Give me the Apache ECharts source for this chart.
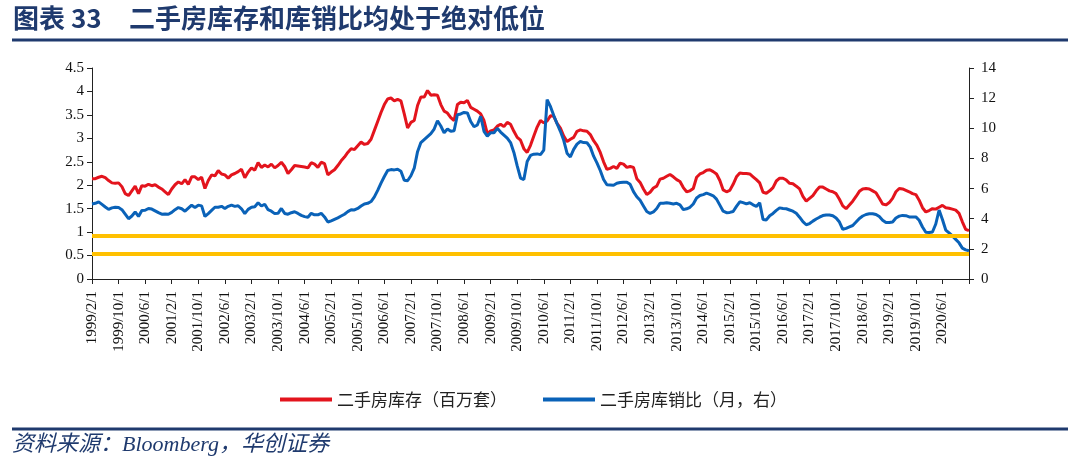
<!DOCTYPE html>
<html><head><meta charset="utf-8">
<script src="https://cdn.jsdelivr.net/npm/echarts@6/dist/echarts.min.js"></script>
<style>html,body{margin:0;padding:0;background:#fff}#c{width:1080px;height:469px}</style>
</head><body><div id="c"></div>
<script>
// Monthly, 1999/2 .. 2021/2
const startYear = 1999, startMonth = 2, nMonths = 265;
const categories = [];
for (let i = 0; i < nMonths; i++) {
  const m = startMonth - 1 + i;
  categories.push((startYear + Math.floor(m / 12)) + '/' + (m % 12 + 1) + '/1');
}
// 二手房库存（百万套） left axis
const inventory = [
2.14,2.14,2.17,2.19,2.16,2.10,2.05,2.04,2.05,1.97,
1.82,1.78,1.88,1.98,1.82,1.99,1.98,2.02,1.99,2.01,
1.96,1.92,1.86,1.80,1.92,2.01,2.07,2.03,2.12,2.02,
2.18,2.18,2.12,2.17,1.93,2.10,2.22,2.20,2.31,2.24,
2.22,2.15,2.22,2.25,2.29,2.34,2.16,2.28,2.37,2.32,
2.48,2.38,2.43,2.39,
2.45,2.37,2.42,2.49,2.40,2.25,2.33,2.42,2.41,2.40,
2.39,2.37,2.48,2.45,2.38,2.49,2.46,2.22,2.28,2.33,
2.42,2.52,2.60,2.70,2.78,2.76,2.84,2.92,2.87,2.89,
2.98,3.17,3.36,3.55,3.72,3.84,3.86,3.80,3.83,3.80,
3.52,3.22,3.34,3.38,3.70,3.88,3.88,4.02,3.92,3.93,
3.92,3.72,3.58,
3.54,3.44,3.38,3.72,3.77,3.76,3.81,3.66,3.62,3.58,
3.52,3.38,3.10,3.16,3.18,3.26,3.30,3.25,3.34,3.30,
3.15,3.02,2.96,2.78,2.70,2.85,3.05,3.24,3.38,3.33,
3.37,3.48,3.47,3.32,3.22,3.05,2.93,2.98,3.02,3.15,
3.18,3.16,3.15,3.08,2.95,2.85,2.70,2.50,2.34,2.36,
2.40,2.36,2.47,
2.45,2.38,2.40,2.38,2.14,2.06,1.92,1.80,1.85,1.94,
1.98,2.13,2.15,2.19,2.23,2.18,2.12,2.08,1.95,1.86,
1.88,1.93,2.17,2.24,2.27,2.32,2.33,2.29,2.24,2.10,
1.90,1.86,1.89,2.02,2.18,2.26,2.25,2.25,2.24,2.18,
2.12,2.05,1.85,1.83,1.88,1.95,2.09,2.15,2.15,2.11,
2.04,2.03,1.98,
1.92,1.76,1.66,1.72,1.78,1.88,1.96,1.96,1.92,1.88,
1.86,1.82,1.70,1.56,1.50,1.58,1.66,1.76,1.87,1.92,
1.93,1.92,1.88,1.84,1.72,1.60,1.58,1.63,1.72,1.86,
1.93,1.92,1.89,1.86,1.82,1.80,1.68,1.52,1.43,1.46,
1.50,1.49,1.53,1.57,1.52,1.51,1.49,1.47,1.40,1.22,
1.06,1.03
];
// 二手房库销比（月，右） right axis
const ratio = [
4.98,5.02,5.12,4.95,4.78,4.62,4.72,4.76,4.74,4.60,
4.30,4.00,4.18,4.45,4.15,4.55,4.56,4.68,4.64,4.52,
4.40,4.30,4.32,4.30,4.42,4.60,4.74,4.66,4.50,4.70,
4.90,4.75,4.90,4.85,4.15,4.34,4.55,4.76,4.76,4.82,
4.68,4.82,4.90,4.82,4.86,4.66,4.34,4.62,4.76,4.80,
5.06,4.84,4.96,4.60,
4.50,4.34,4.36,4.68,4.35,4.30,4.40,4.46,4.35,4.22,
4.14,4.10,4.36,4.26,4.26,4.36,4.12,3.78,3.86,3.96,
4.06,4.18,4.30,4.47,4.60,4.58,4.68,4.84,4.98,5.02,
5.14,5.45,5.88,6.36,6.80,7.20,7.26,7.24,7.28,7.15,
6.55,6.52,6.85,7.35,8.45,9.05,9.25,9.45,9.65,9.95,
10.50,10.15,9.70,
9.95,9.80,9.84,10.90,10.95,11.05,11.02,10.45,10.10,10.22,
10.80,9.80,9.48,9.70,9.70,10.00,9.75,9.55,9.35,9.05,
8.40,7.50,6.70,6.60,7.80,8.20,8.28,8.30,8.25,8.55,
11.90,11.45,10.85,10.30,9.80,9.20,8.35,8.10,8.60,8.95,
9.12,9.05,9.04,8.75,8.15,7.70,7.20,6.60,6.25,6.24,
6.22,6.35,6.40,
6.42,6.42,6.28,5.80,5.46,5.22,4.85,4.48,4.35,4.45,
4.68,5.03,5.02,5.06,5.02,4.98,5.02,4.92,4.60,4.66,
4.76,4.98,5.38,5.54,5.60,5.70,5.62,5.52,5.30,4.90,
4.50,4.40,4.42,4.48,4.82,5.12,5.07,4.98,5.06,4.92,
4.82,5.05,3.95,3.92,4.20,4.35,4.55,4.72,4.68,4.66,
4.58,4.50,4.36,
4.10,3.80,3.60,3.68,3.84,3.98,4.10,4.21,4.25,4.25,
4.20,4.05,3.78,3.30,3.36,3.46,3.55,3.78,4.02,4.18,
4.28,4.33,4.33,4.28,4.14,3.90,3.75,3.75,3.78,4.05,
4.17,4.22,4.20,4.12,4.12,4.12,3.90,3.45,3.10,3.08,
3.12,3.65,4.58,3.95,3.25,3.06,2.86,2.63,2.40,2.05,
1.93,1.88
];
const inventoryRef = 0.93;   // yellow line, left axis
const ratioRef = 1.70;       // yellow line, right axis
const leftTicks = { min: 0, max: 4.5, interval: 0.5 };
const rightTicks = { min: 0, max: 14, interval: 2 };

const navy = '#1F3A6E';
const axisColor = '#222';
const serif = 'Liberation Serif, Times New Roman, serif';
const cjk = 'Noto Sans CJK SC';

const chart = echarts.init(document.getElementById('c'));
const axisCommon = {
  axisLine: { show: true, lineStyle: { color: axisColor, width: 1 } },
  axisTick: { show: true, length: 5, lineStyle: { color: axisColor } },
  splitLine: { show: false }
};
chart.setOption({
  animation: false,
  backgroundColor: '#fff',
  grid: { left: 92, right: 111, top: 68, bottom: 190 },
  legend: {
    left: 275, top: 386, itemWidth: 52, itemHeight: 4, itemGap: 36, icon: 'rect',
    textStyle: { fontFamily: cjk, fontSize: 17, color: '#222' },
    data: ['二手房库存（百万套）', '二手房库销比（月，右）']
  },
  xAxis: {
    type: 'category', data: categories, boundaryGap: false,
    axisLine: { lineStyle: { color: axisColor, width: 1 } },
    axisTick: { interval: (i) => i % 8 === 0, length: 5, lineStyle: { color: axisColor } },
    axisLabel: { interval: (i) => i % 8 === 0 && i < 264, rotate: 90, margin: 12,
      fontFamily: serif, fontSize: 15, color: '#111' },
    splitLine: { show: false }
  },
  yAxis: [
    Object.assign({ type: 'value', position: 'left', min: leftTicks.min, max: leftTicks.max, interval: leftTicks.interval,
      axisLabel: { margin: 8, fontFamily: serif, fontSize: 15, color: '#111' } }, axisCommon),
    Object.assign({ type: 'value', position: 'right', min: rightTicks.min, max: rightTicks.max, interval: rightTicks.interval,
      axisLabel: { margin: 12, fontFamily: serif, fontSize: 15, color: '#111' } }, axisCommon)
  ],
  series: [
    { name: '二手房库存（百万套）', type: 'line', yAxisIndex: 0, data: inventory,
      showSymbol: false, symbol: 'none', color: '#E3141D', lineStyle: { width: 3, color: '#E3141D' },
      markLine: { silent: true, symbol: ['none', 'none'], label: { show: false },
        lineStyle: { color: '#FFC000', width: 4, type: 'solid' }, data: [{ yAxis: inventoryRef }] } },
    { name: '二手房库销比（月，右）', type: 'line', yAxisIndex: 1, data: ratio,
      showSymbol: false, symbol: 'none', color: '#0A62B8', lineStyle: { width: 3, color: '#0A62B8' },
      markLine: { silent: true, symbol: ['none', 'none'], label: { show: false },
        lineStyle: { color: '#FFC000', width: 4, type: 'solid' }, data: [{ yAxis: ratioRef }] } }
  ],
  graphic: [
    { type: 'text', left: 13, top: 5, style: { text: '图表 33', font: 'bold 26px "Noto Sans CJK SC"', fill: navy } },
    { type: 'text', left: 129, top: 5, style: { text: '二手房库存和库销比均处于绝对低位', font: 'bold 26px "Noto Sans CJK SC"', fill: navy } },
    { type: 'line', shape: { x1: 12, y1: 40, x2: 1068, y2: 40 }, style: { stroke: navy, lineWidth: 3 } },
    { type: 'line', shape: { x1: 12, y1: 429, x2: 1068, y2: 429 }, style: { stroke: navy, lineWidth: 3 } },
    { type: 'text', left: 12, top: 434, style: { text: '资料来源：Bloomberg，华创证券', font: 'italic 22px "Liberation Serif", "Noto Sans CJK SC"', fill: navy } }
  ]
});
</script></body></html>
